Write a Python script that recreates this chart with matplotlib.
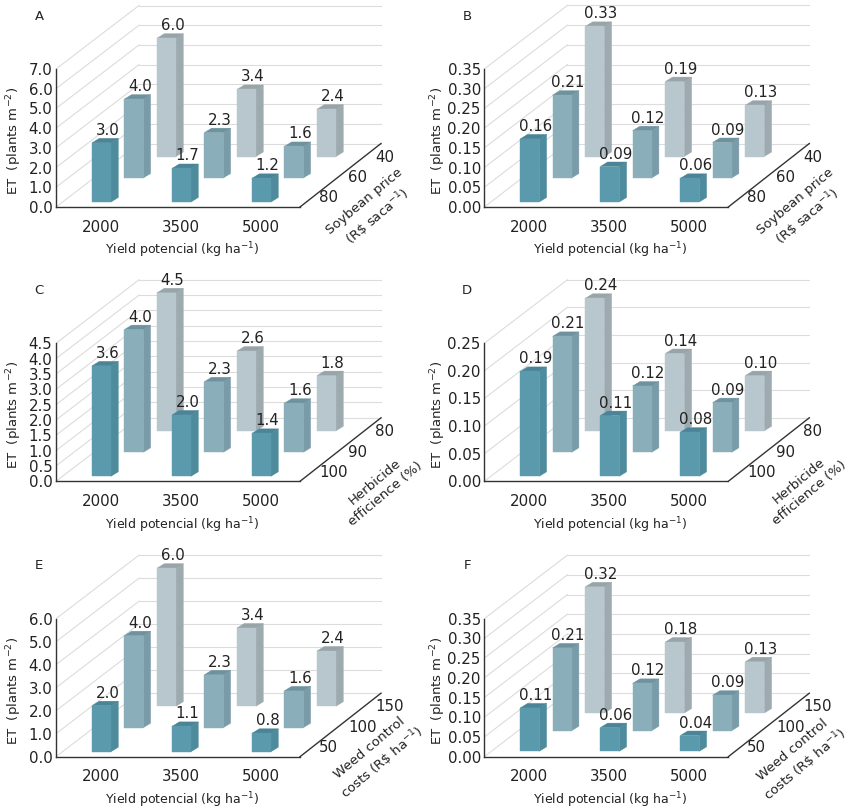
import matplotlib
matplotlib.use("Agg")
import matplotlib.pyplot as plt
from matplotlib.patches import Polygon

plt.rcParams["font.family"] = "DejaVu Sans"
plt.rcParams["mathtext.default"] = "regular"

YIELDS = ["2000", "3500", "5000"]

# each panel: front row, middle row, back row, one value per yield level
VALUES_A = [[3.0, 1.7, 1.2], [4.0, 2.3, 1.6], [6.0, 3.4, 2.4]]
VALUES_B = [[0.16, 0.09, 0.06], [0.21, 0.12, 0.09], [0.33, 0.19, 0.13]]
VALUES_C = [[3.6, 2.0, 1.4], [4.0, 2.3, 1.6], [4.5, 2.6, 1.8]]
VALUES_D = [[0.19, 0.11, 0.08], [0.21, 0.12, 0.09], [0.24, 0.14, 0.10]]
VALUES_E = [[2.0, 1.1, 0.8], [4.0, 2.3, 1.6], [6.0, 3.4, 2.4]]
VALUES_F = [[0.11, 0.06, 0.04], [0.21, 0.12, 0.09], [0.32, 0.18, 0.13]]

TICKS_A = [0.0, 1.0, 2.0, 3.0, 4.0, 5.0, 6.0, 7.0]
TICKS_B = [0.00, 0.05, 0.10, 0.15, 0.20, 0.25, 0.30, 0.35]
TICKS_C = [0.0, 0.5, 1.0, 1.5, 2.0, 2.5, 3.0, 3.5, 4.0, 4.5]
TICKS_D = [0.00, 0.05, 0.10, 0.15, 0.20, 0.25]
TICKS_E = [0.0, 1.0, 2.0, 3.0, 4.0, 5.0, 6.0]
TICKS_F = [0.00, 0.05, 0.10, 0.15, 0.20, 0.25, 0.30, 0.35]

ROWS_PRICE = ["80", "60", "40"]
ROWS_HERB = ["100", "90", "80"]
ROWS_COST = ["50", "100", "150"]

TITLE_PRICE = "Soybean price\n" + r"(R\$ saca$^{-1}$)"
TITLE_HERB = "Herbicide\nefficience (%)"
TITLE_COST = "Weed control\n" + r"costs (R\$ ha$^{-1}$)"

# face, side, top colours for front, middle, back rows
FACE = ["#5B99AC", "#8AAFBA", "#B8C7CD"]
SIDE = ["#4E8B9D", "#7A9CA8", "#9DABB0"]
TOP = ["#4A8496", "#6E939F", "#97A4A8"]
GRID = "#DCDCDC"
AXIS = "#333333"
TEXT = "#222222"

# oblique layout, all in pixels
WALL_H = 138
FLOOR_W = 244
BACK_DX, BACK_DY = 83, 63.5
ROW_DX = [36, 68.3, 101]
ROW_BASE = [5, 29, 50.5]
ROW_BASE_F = [5.4, 26, 43.7]  # panel F sits its rows a bit closer together
GROUP_STEP = 80
BAR_W, BAR_DX, BAR_DY = 19, 7.3, 4.5
ROW_LABEL_X = [263, 292, 319]
ROW_LABEL_Y = [9, 29, 50]


def draw_panel(x0, y0, letter, values, ticks, fmt, rows, row_title, title_xy, ylab_x, bases=ROW_BASE):
    fig = plt.gcf()
    ax = fig.add_axes([x0 / 850, (810 - y0) / 810, 345 / 850, 204 / 810])
    ymax = ticks[-1]
    per_px = ymax / WALL_H  # value units for one pixel

    # walls
    for t in ticks:
        v = t + BACK_DY * per_px
        ax.plot([0, BACK_DX], [t, v], color=GRID, lw=0.8, zorder=1)
        ax.plot([BACK_DX, FLOOR_W + BACK_DX - 2], [v, v], color=GRID, lw=0.8, zorder=1)

    # bars, back row first so the front ones cover them
    for r in [2, 1, 0]:
        base = bases[r] * per_px
        for g, val in enumerate(values[r]):
            left = ROW_DX[r] + g * GROUP_STEP
            right = left + BAR_W
            top = base + val
            dx, dy = BAR_DX, BAR_DY * per_px
            z = 5 + (2 - r)
            ax.add_patch(Polygon([(right, base), (right + dx, base + dy), (right + dx, top + dy), (right, top)],
                                 closed=True, fc=SIDE[r], ec=SIDE[r], lw=0.3, zorder=z))
            ax.add_patch(Polygon([(left, top), (left + dx, top + dy), (right + dx, top + dy), (right, top)],
                                 closed=True, fc=TOP[r], ec=TOP[r], lw=0.3, zorder=z))
            ax.bar(left, val, width=BAR_W, bottom=base, align="edge", color=FACE[r],
                   edgecolor=FACE[r], lw=0.3, zorder=z)
            ax.text(left + BAR_W / 2 + 6, top + 12.5 * per_px, fmt % val, ha="center", va="center",
                    fontsize=10.8, color=TEXT, zorder=20)

    # depth axis
    ax.plot([FLOOR_W, FLOOR_W + 81], [0, BACK_DY * per_px], color=AXIS, lw=1.0, zorder=15)
    for lab, lx, ly in zip(rows, ROW_LABEL_X, ROW_LABEL_Y):
        ax.text(lx, ly * per_px, lab, ha="left", va="center", fontsize=10.8, color=TEXT)
    ax.text(title_xy[0], title_xy[1] * per_px, row_title, rotation=40, rotation_mode="anchor",
            ha="center", va="center", multialignment="center", fontsize=9.5, color=TEXT, linespacing=1.3)

    ax.set_xlim(0, 345)
    ax.set_ylim(0, ymax * 204 / WALL_H)
    ax.patch.set_visible(False)
    for side in ["top", "right"]:
        ax.spines[side].set_visible(False)
    ax.spines["left"].set_bounds(0, ymax)
    ax.spines["bottom"].set_bounds(0, FLOOR_W)
    for side in ["left", "bottom"]:
        ax.spines[side].set_color(AXIS)
        ax.spines[side].set_linewidth(1.0)
        ax.spines[side].set_zorder(15)

    ax.set_yticks(ticks)
    ax.set_yticklabels([fmt % t for t in ticks])
    ax.set_xticks([45, 45 + GROUP_STEP, 45 + 2 * GROUP_STEP])
    ax.set_xticklabels(YIELDS)
    ax.tick_params(axis="y", length=0, pad=2.5, labelsize=10.8, labelcolor=TEXT)
    ax.tick_params(axis="x", length=0, pad=9, labelsize=10.8, labelcolor=TEXT)

    ax.set_xlabel("Yield potencial (kg ha$^{-1}$)", fontsize=9, color=TEXT, va="center")
    ax.xaxis.set_label_coords(126, -43.5 * per_px, transform=ax.transData)
    ax.set_ylabel("ET  (plants m$^{-2}$)", fontsize=9.5, color=TEXT, va="center")
    ax.yaxis.set_label_coords(ylab_x, 66 * per_px, transform=ax.transData)

    ax.text(-17, 191 * per_px, letter, ha="center", va="center", fontsize=9.5, color=TEXT)


def main():
    plt.figure(figsize=(8.5, 8.1), dpi=100, facecolor="white")

    draw_panel(56, 207, "A", VALUES_A, TICKS_A, "%.1f", ROWS_PRICE, TITLE_PRICE, (316, -3), -41.5)
    draw_panel(484.3, 207, "B", VALUES_B, TICKS_B, "%.2f", ROWS_PRICE, TITLE_PRICE, (318, -3), -46.5)
    draw_panel(56, 481.3, "C", VALUES_C, TICKS_C, "%.1f", ROWS_HERB, TITLE_HERB, (324, -7), -41.5)
    draw_panel(484.3, 481.3, "D", VALUES_D, TICKS_D, "%.2f", ROWS_HERB, TITLE_HERB, (320, -6), -46.5)
    draw_panel(56, 756.7, "E", VALUES_E, TICKS_E, "%.1f", ROWS_COST, TITLE_COST, (321, 0), -41.5)
    draw_panel(484.3, 756.7, "F", VALUES_F, TICKS_F, "%.2f", ROWS_COST, TITLE_COST, (315, -2), -46.5,
               bases=ROW_BASE_F)

    plt.savefig("out.png", dpi=100, facecolor="white")
    plt.close()


if __name__ == "__main__":
    main()
